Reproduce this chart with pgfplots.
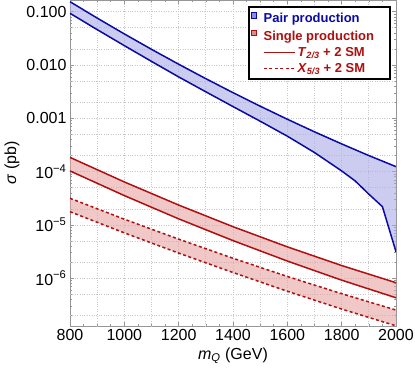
\documentclass[border=0pt]{standalone}
\usepackage{fontspec}
\setmainfont{Liberation Sans}
\usepackage{pgfplots}
\pgfplotsset{compat=1.18}
\definecolor{pairline}{RGB}{10,10,165}
\definecolor{pairfill}{RGB}{170,170,230}
\definecolor{pairbox}{RGB}{140,140,225}
\definecolor{singline}{RGB}{175,15,15}
\definecolor{singfill}{RGB}{230,163,163}
\definecolor{singbox}{RGB}{215,140,140}
\definecolor{framec}{RGB}{150,150,150}
\definecolor{gridc}{RGB}{200,200,200}
\setlength{\fboxsep}{0pt}
\setlength{\fboxrule}{0.8pt}
\newcommand{\legsq}[2]{\hspace*{-46.7pt}\raisebox{5pt}{\fcolorbox{#1}{#2}{\rule{0pt}{4.6pt}\rule{4.6pt}{0pt}}}\hspace*{6.5pt}}
\pgfplotsset{longline/.style={legend image code/.code={\draw[##1, draw=singline, line width=1.5pt] (0pt,0pt) -- (31pt,0pt);}}}

\begin{document}
\begin{tikzpicture}
\begin{axis}[
  name=ax,
  scale only axis, width=326pt, height=326pt,
  ymode=log,
  xmin=800, xmax=2000, ymin=1.27e-7, ymax=0.1658,
  xtick={800,1000,1200,1400,1600,1800,2000},
  xticklabels={800,1000,1200,1400,1600,1800,2000},
  minor x tick num=3,
  ytick={1e-6,1e-5,1e-4,1e-3,1e-2,1e-1},
  yticklabels={10\textsuperscript{−6},10\textsuperscript{−5},10\textsuperscript{−4},0.001,0.010,0.100},
  minor ytick={2e-7,3e-7,4e-7,5e-7,6e-7,7e-7,8e-7,9e-7,
    2e-6,3e-6,4e-6,5e-6,6e-6,7e-6,8e-6,9e-6,
    2e-5,3e-5,4e-5,5e-5,6e-5,7e-5,8e-5,9e-5,
    2e-4,3e-4,4e-4,5e-4,6e-4,7e-4,8e-4,9e-4,
    2e-3,3e-3,4e-3,5e-3,6e-3,7e-3,8e-3,9e-3,
    0.02,0.03,0.04,0.05,0.06,0.07,0.08,0.09},
  extra x ticks={900,1100,1300,1500,1700,1900},
  extra x tick labels={},
  extra x tick style={major tick length=0pt, grid=major},
  extra y ticks={2e-7,5e-7,2e-6,5e-6,2e-5,5e-5,2e-4,5e-4,2e-3,5e-3,0.02,0.05},
  extra y tick labels={},
  extra y tick style={major tick length=0pt, grid=major},
  grid=major,
  grid style={gridc, dotted, line width=0.7pt},
  axis line style={framec, line width=0.9pt},
  tick style={framec, line width=0.6pt},
  tick align=inside,
  major tick length=4.5pt, minor tick length=2.5pt,
  tick label style={font=\fontsize{16}{18}\selectfont},
  label style={font=\fontsize{16}{18}\selectfont},
  xlabel={\textit{m}\textsubscript{\textit{Q}} (GeV)},
  ylabel={\textit{σ} (pb)},
  legend style={at={(1,1)}, anchor=north east, xshift=-5pt, yshift=-6pt,
    draw=black, line width=1.8pt, fill=white,
    font=\bfseries\fontsize{13}{15}\selectfont,
    cells={anchor=west}, row sep=1.5pt, inner xsep=14pt, inner ysep=3.5pt},
]

% pair production band
\addplot[fill=pairfill, fill opacity=0.6, draw=none, forget plot] coordinates {
  (800,0.1541) (900,0.0760) (1000,0.0383) (1100,0.0197) (1200,0.01034)
  (1300,0.00554) (1400,0.00303) (1500,0.00169) (1600,0.000961)
  (1700,0.000558) (1800,0.000331) (1900,0.000200) (2000,0.000124)
  (2000,3.14e-6) (1950,2.20e-5) (1900,3.78e-5) (1850,6.67e-5)
  (1800,0.000103) (1700,0.000228) (1600,0.000462) (1500,0.000883)
  (1400,0.00166) (1300,0.00314) (1200,0.00598) (1100,0.01169)
  (1000,0.0231) (900,0.0461) (800,0.0933)
} -- cycle;

% single production bands
\addplot[fill=singfill, fill opacity=0.6, draw=none, forget plot] coordinates {
  (800,1.85e-4) (1000,6.4e-5) (1200,2.36e-5) (1400,9.27e-6)
  (1600,3.88e-6) (1800,1.73e-6) (2000,8.24e-7)
  (2000,4.3e-7) (1800,9.2e-7) (1600,2.10e-6) (1400,5.08e-6)
  (1200,1.30e-5) (1000,3.55e-5) (800,1.03e-4)
} -- cycle;
\addplot[fill=singfill, fill opacity=0.6, draw=none, forget plot] coordinates {
  (800,3.16e-5) (1000,1.28e-5) (1200,5.41e-6) (1400,2.37e-6)
  (1600,1.08e-6) (1800,5.13e-7) (2000,2.53e-7)
  (2000,1.28e-7) (1800,2.64e-7) (1600,5.70e-7) (1400,1.28e-6)
  (1200,2.96e-6) (1000,7.1e-6) (800,1.77e-5)
} -- cycle;

% pair production edges
\addplot[pairline, line width=1.5pt, forget plot] coordinates {
  (800,0.1541) (900,0.0760) (1000,0.0383) (1100,0.0197) (1200,0.01034)
  (1300,0.00554) (1400,0.00303) (1500,0.00169) (1600,0.000961)
  (1700,0.000558) (1800,0.000331) (1900,0.000200) (2000,0.000124)
};
\addplot[pairline, line width=1.5pt, forget plot] coordinates {
  (800,0.0933) (900,0.0461) (1000,0.0231) (1100,0.01169) (1200,0.00598)
  (1300,0.00314) (1400,0.00166) (1500,0.000883) (1600,0.000462)
  (1700,0.000228) (1800,0.000103) (1850,6.67e-5) (1900,3.78e-5)
  (1950,2.20e-5) (2000,3.14e-6)
};

% T_{2/3} edges
\addplot[singline, line width=1.5pt, forget plot] coordinates {
  (800,1.85e-4) (1000,6.4e-5) (1200,2.36e-5) (1400,9.27e-6)
  (1600,3.88e-6) (1800,1.73e-6) (2000,8.24e-7)
};
\addplot[singline, line width=1.5pt, forget plot] coordinates {
  (800,1.03e-4) (1000,3.55e-5) (1200,1.30e-5) (1400,5.08e-6)
  (1600,2.10e-6) (1800,9.2e-7) (2000,4.3e-7)
};

% X_{5/3} edges
\addplot[singline, line width=1.5pt, dash pattern=on 3pt off 2.5pt, forget plot] coordinates {
  (800,3.16e-5) (1000,1.28e-5) (1200,5.41e-6) (1400,2.37e-6)
  (1600,1.08e-6) (1800,5.13e-7) (2000,2.53e-7)
};
\addplot[singline, line width=1.5pt, dash pattern=on 3pt off 2.5pt, forget plot] coordinates {
  (800,1.77e-5) (1000,7.1e-6) (1200,2.96e-6) (1400,1.28e-6)
  (1600,5.70e-7) (1800,2.64e-7) (2000,1.28e-7)
};

\addlegendimage{empty legend}
\addlegendentry{\legsq{pairline}{pairbox}\textcolor{pairline}{Pair production}}
\addlegendimage{empty legend}
\addlegendentry{\legsq{singline}{singbox}\textcolor{singline}{Single production}}
\addlegendimage{longline}
\addlegendentry{\textcolor{singline}{\textit{T}\textsubscript{\textit{2/3}} + 2 SM}}
\addlegendimage{dash pattern=on 3pt off 2.5pt, longline}
\addlegendentry{\textcolor{singline}{\textit{X}\textsubscript{\textit{5/3}} + 2 SM}}
\end{axis}
\pgfresetboundingbox
\path ([xshift=-70pt,yshift=-51pt]ax.south west) rectangle ([xshift=19pt]ax.north east);
\end{tikzpicture}
\end{document}
